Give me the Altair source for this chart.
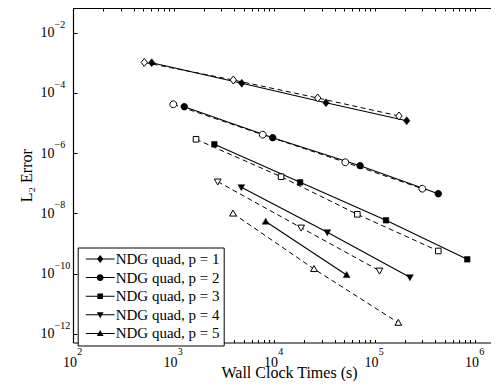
import altair as alt
import pandas as pd
import math

labels = ["NDG quad, p = 1", "NDG quad, p = 2", "NDG quad, p = 3",
          "NDG quad, p = 4", "NDG quad, p = 5"]

# filled markers, solid lines
p1_x = [607, 4775, 32900, 209000]
p1_y = [1.01e-3, 2.09e-4, 4.75e-5, 1.20e-5]
p2_x = [1280, 9700, 71800, 431000]
p2_y = [3.5e-5, 3.27e-6, 3.86e-7, 4.54e-8]
p3_x = [2550, 18200, 130000, 837000]
p3_y = [1.98e-6, 1.08e-7, 5.94e-9, 3.01e-10]
p4_x = [4730, 33900, 225000]
p4_y = [7.4e-8, 2.37e-9, 7.6e-11]
p5_x = [8260, 52800]
p5_y = [5.4e-9, 9.1e-11]

# open markers, dashed lines
p1o_x = [512, 3935, 27200, 175000]
p1o_y = [1.03e-3, 2.69e-4, 6.8e-5, 1.72e-5]
p2o_x = [995, 7720, 51200, 299000]
p2o_y = [4.2e-5, 4.12e-6, 5.0e-7, 6.64e-8]
p3o_x = [1675, 11750, 67400, 431000]
p3o_y = [2.9e-6, 1.66e-7, 9.4e-9, 5.7e-10]
p4o_x = [2755, 18600, 112000]
p4o_y = [1.14e-7, 3.37e-9, 1.26e-10]
p5o_x = [3910, 25000, 172600]
p5o_y = [1.0e-8, 1.44e-10, 2.37e-12]

x_major = [1e2, 1e3, 1e4, 1e5, 1e6]
x_exponents = ["2", "3", "4", "5", "6"]
x_minor = [m * 10 ** k for k in range(2, 6) for m in range(1, 10)] + [1e6]
y_major = [1e-12, 1e-10, 1e-8, 1e-6, 1e-4, 1e-2]
y_exponents = ["−12", "−10", "−8", "−6", "−4", "−2"]

rows = []
solid = [(p1_x, p1_y), (p2_x, p2_y), (p3_x, p3_y), (p4_x, p4_y), (p5_x, p5_y)]
dashed = [(p1o_x, p1o_y), (p2o_x, p2o_y), (p3o_x, p3o_y), (p4o_x, p4o_y), (p5o_x, p5o_y)]
for lab, (xs, ys) in zip(labels, solid):
    for i, (a, b) in enumerate(zip(xs, ys)):
        rows.append({"x": a, "y": b, "p": lab, "kind": "solid", "i": i})
for lab, (xs, ys) in zip(labels, dashed):
    for i, (a, b) in enumerate(zip(xs, ys)):
        rows.append({"x": a, "y": b, "p": lab, "kind": "dashed", "i": i})
df = pd.DataFrame(rows)

W, H = 418, 334.5
FONT = "Liberation Serif"

def label_expr(vals, labs):
    expr = "''"
    for v, l in zip(vals, labs):
        expr = f"abs(log(datum.value)/LN10 - ({math.log10(v)})) < 0.01 ? '{l}' : " + expr
    return expr

xscale = alt.Scale(type="log", domain=[100, 1.442e6], nice=False)
yscale = alt.Scale(type="log", domain=[5.22e-13, 6.6e-2], nice=False)

# all paths drawn clockwise so that overlapping filled parts stay filled
marker_paths = [
    "M0,-1L0.8,0L0,1L-0.8,0Z",
    "M0.85,0A0.85,0.85,0,1,1,-0.85,0A0.85,0.85,0,1,1,0.85,0Z",
    "M-0.7,-0.7L0.7,-0.7L0.7,0.7L-0.7,0.7Z",
    "M-0.85,-0.65L0.85,-0.65L0,0.85Z",
    "M-0.85,0.65L0,-0.85L0.85,0.65Z",
]
legend_line = "M-3.6,-0.13L3.6,-0.13L3.6,0.13L-3.6,0.13Z"
legend_paths = [legend_line + p for p in marker_paths]

base = alt.Chart(df)

axis_common = dict(grid=False, domainColor="black", tickColor="black",
                   labelColor="black", titleColor="black")

# solid lines: "10" base labels, titles and axis lines
solid_lines = base.transform_filter(alt.datum.kind == "solid").mark_line(
    color="black", strokeWidth=1.1
).encode(
    x=alt.X("x:Q", scale=xscale, axis=alt.Axis(
        orient="bottom", values=x_major, labelExpr=label_expr(x_major, ["10"] * 5),
        ticks=False, tickSize=0, labelPadding=23.5, labelBaseline="alphabetic",
        labelAlign="right", labelOffset=3.5,
        labelFont=FONT, labelFontSize=14, labelFlush=False, labelOverlap=False,
        title="Wall Clock Times (s)", titleFont=FONT, titleFontSize=16,
        titleFontWeight="normal", titleX=216, titleY=35.2, titleBaseline="alphabetic",
        domainWidth=1.2, **axis_common)),
    y=alt.Y("y:Q", scale=yscale, axis=alt.Axis(
        orient="left", values=y_major, labelExpr=label_expr(y_major, ["10"] * 6),
        ticks=False, tickSize=0, labelPadding=33, labelAlign="left",
        labelBaseline="middle", labelFont=FONT, labelFontSize=14,
        labelFlush=False, labelOverlap=False,
        title="L₂ Error", titleFont=FONT, titleFontSize=16, titleFontWeight="normal",
        titlePadding=6, domainWidth=1.2, **axis_common)),
    detail="p:N",
    order="i:Q",
)

# dashed lines: exponent labels
dashed_lines = base.transform_filter(alt.datum.kind == "dashed").mark_line(
    color="black", strokeWidth=1, strokeDash=[5, 3.5]
).encode(
    x=alt.X("x:Q", scale=xscale, axis=alt.Axis(
        orient="bottom", values=x_major, labelExpr=label_expr(x_major, x_exponents),
        ticks=False, tickSize=0, domain=False, labelPadding=12,
        labelBaseline="alphabetic", labelAlign="left", labelOffset=3.7,
        labelFont=FONT, labelFontSize=10, labelFlush=False, labelOverlap=False,
        title=None, **axis_common)),
    y=alt.Y("y:Q", scale=yscale, axis=alt.Axis(
        orient="left", values=y_major, labelExpr=label_expr(y_major, y_exponents),
        ticks=False, tickSize=0, domain=False, labelPadding=19, labelAlign="left",
        labelBaseline="middle", labelOffset=-8.5,
        labelFont=FONT, labelFontSize=10, labelFlush=False, labelOverlap=False,
        title=None, **axis_common)),
    detail="p:N",
    order="i:Q",
)

# open markers: top border with inward ticks, inward ticks on the left
open_pts = base.transform_filter(alt.datum.kind == "dashed").mark_point(
    filled=True, fill="white", stroke="black", strokeWidth=1, size=64, opacity=1
).encode(
    x=alt.X("x:Q", scale=xscale, axis=alt.Axis(
        orient="bottom", offset=-H, values=x_minor, labels=False, domain=True,
        domainWidth=1.2, ticks=True, tickSize=3, tickWidth=1, title=None, **axis_common)),
    y=alt.Y("y:Q", scale=yscale, axis=alt.Axis(
        orient="right", offset=-W, values=y_major, labels=False, domain=False,
        ticks=True, tickSize=4, tickWidth=1, title=None, **axis_common)),
    shape=alt.Shape("p:N", scale=alt.Scale(domain=labels, range=marker_paths), legend=None),
)

# filled markers: inward ticks at the bottom
filled_pts = base.transform_filter(alt.datum.kind == "solid").mark_point(
    filled=True, fill="black", stroke="black", strokeWidth=0.5, size=64, opacity=1
).encode(
    x=alt.X("x:Q", scale=xscale, axis=alt.Axis(
        orient="top", offset=-H, values=x_minor, labels=False, domain=False,
        ticks=True, tickSize=3, tickWidth=1, title=None, **axis_common)),
    y=alt.Y("y:Q", scale=yscale, axis=None),
    shape=alt.Shape("p:N", scale=alt.Scale(domain=labels, range=marker_paths), legend=None),
)

legend_layer = base.transform_filter("false").mark_point(
    filled=True, fill="black", size=64, opacity=1
).encode(
    x=alt.X("x:Q", scale=xscale, axis=None),
    y=alt.Y("y:Q", scale=yscale, axis=None),
    shape=alt.Shape("p:N", scale=alt.Scale(domain=labels, range=legend_paths),
                    legend=alt.Legend(
                        title=None, orient="none", legendX=4.7, legendY=239.5,
                        strokeColor="black", fillColor="white", padding=4,
                        rowPadding=2.6, symbolSize=64, symbolOffset=11, labelOffset=8,
                        symbolFillColor="black", symbolOpacity=1,
                        labelFont=FONT, labelFontSize=15, labelColor="black",
                        labelLimit=300)),
)

chart = alt.layer(solid_lines, dashed_lines, open_pts, filled_pts, legend_layer).resolve_scale(
    shape="independent"
).resolve_axis(x="independent", y="independent").properties(
    width=W, height=H,
    autosize=alt.AutoSizeParams(type="none"),
    padding={"left": 65, "top": 0, "right": 0, "bottom": 38},
    background="white",
).configure_view(stroke=None)

chart.save("out.html", embed_options={"renderer": "svg", "actions": False})
